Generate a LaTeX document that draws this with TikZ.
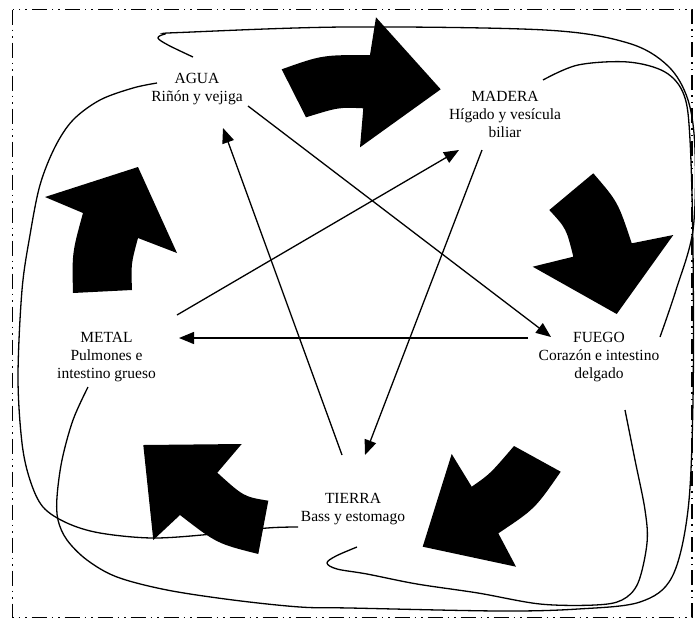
\documentclass[tikz,border=0pt]{standalone}
\usepackage{fontspec}
\setmainfont{Liberation Serif}
\usetikzlibrary{arrows.meta}
\begin{document}
\begin{tikzpicture}[x=1pt,y=-1pt,
  elem/.style={align=center,inner sep=0pt,anchor=base,font=\fontsize{15.5pt}{18pt}\selectfont},
  conn/.style={line width=1.3pt,-{Triangle[length=15pt,width=12pt]}},
  loopline/.style={line width=1.3pt},
  blockarrow/.style={fill=black},
  framebox/.style={line width=1.1pt,dash pattern=on 15pt off 5pt on 1.5pt off 5pt on 1.5pt off 5pt}]
\useasboundingbox (0,0) rectangle (695,619);
\draw[framebox] (12.5,9.5) rectangle (692,617.5);

% element nodes (anchor = baseline of the last line)
\node[elem] (agua)   at (197,101.5)   {AGUA\\Riñón y vejiga};
\node[elem] (madera) at (505,137)     {MADERA\\Hígado y vesícula\\biliar};
\node[elem] (fuego)  at (599,378.5)   {FUEGO\\Corazón e intestino\\delgado};
\node[elem] (metal)  at (106.5,378.5) {METAL\\Pulmones e\\intestino grueso};
\node[elem] (tierra) at (353,521)     {TIERRA\\Bass y estomago};

% block arrows
\fill[blockarrow] (281.7,69.3) .. controls (322,55) .. (370,55) -- (376,17.3) -- (440.7,89.3) -- (360,147.3) -- (363.3,108.3) .. controls (338.7,107.2) .. (306,117.3) -- cycle;
\fill[blockarrow] (593.3,173.3) .. controls (618,202) .. (631.7,243.3) -- (673.3,235) -- (616.7,314) -- (532.7,266.7) -- (573.3,256.7) .. controls (566.3,228.5) .. (549.3,210) -- cycle;
\fill[blockarrow] (560.7,471.7) .. controls (535,508.8) .. (498.3,533.3) -- (516,566.7) -- (422.7,546.7) -- (451.7,454) -- (471.7,486.7) .. controls (490,474) .. (514,446) -- cycle;
\fill[blockarrow] (258.3,554) .. controls (216.8,543.5) .. (180,515) -- (153.3,540) -- (143.3,445) -- (241.7,444) -- (217.3,472.7) .. controls (243.8,496.7) .. (268.3,500.7) -- cycle;
\fill[blockarrow] (73,293) .. controls (72,253) .. (83,213) -- (45,197) -- (138,167) -- (177,253) -- (138,238) .. controls (131,264) .. (132,290) -- cycle;

% straight connectors
\coordinate (aguaS)   at (248,106); \coordinate (fuegoE)  at (551,337);
\coordinate (tierraS) at (342,455); \coordinate (aguaE)   at (223,128);
\coordinate (metalS)  at (177,315); \coordinate (maderaE) at (459,150);
\coordinate (maderaS) at (482,150); \coordinate (tierraE) at (365,455);
\coordinate (fuegoS)  at (528,338); \coordinate (metalE)  at (179,338);
\draw[conn] (aguaS) -- (fuegoE);
\draw[conn] (tierraS) -- (aguaE);
\draw[conn] (metalS) -- (maderaE);
\draw[conn] (maderaS) -- (tierraE);
\draw[conn] (fuegoS) -- (metalE);

% freehand loops
\draw[loopline] plot[smooth,tension=0.55] coordinates {(193,57) (168,45) (158,38) (165,34) (180,32.5) (345,27) (545,30) (628,43) (668,66) (688,100) (695,150) (693,230) (676,290) (660,337)};
\draw[loopline] plot[smooth,tension=0.55] coordinates {(543,80) (578,65) (628,62) (665,72) (684,95) (690,140) (693,250) (693,400) (688,510) (672,577) (640,602) (578,609) (500,611) (350,608) (300,607) (233,600) (167,590) (117,577) (87,560) (67,540) (58,520) (57,497) (62,460) (73,420) (88,387)};
\draw[loopline] plot[smooth,tension=0.55] coordinates {(357,547) (336,556) (327,563) (337,569) (367,574) (417,584) (478,593) (540,604) (595,605) (622,600) (638,583) (647,543) (645,510) (635,460) (625,410)};
\draw[loopline] plot[smooth,tension=0.55] coordinates {(157,83) (133,88) (100,100) (73,120) (55,147) (40,185) (30,235) (22,290) (18,377) (22,443) (30,480) (43,507) (67,523) (100,533) (153,538) (213,534) (267,528) (298,527)};
\end{tikzpicture}
\end{document}
